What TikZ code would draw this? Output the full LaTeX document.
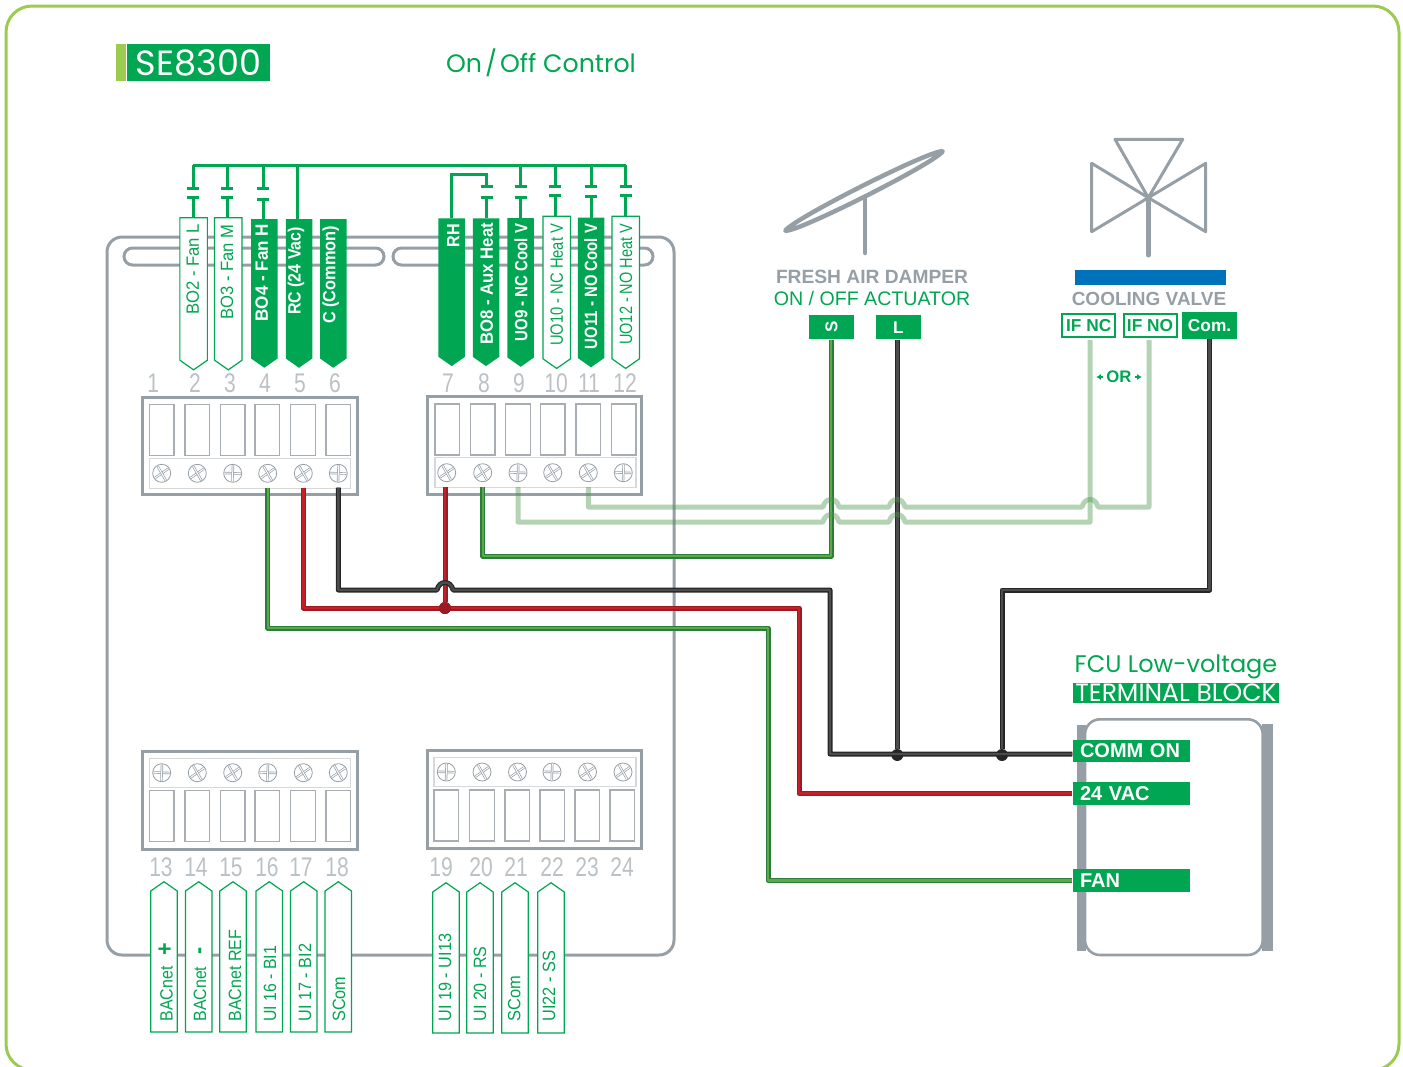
\documentclass[tikz,border=0pt]{standalone}
\usepackage{fontspec}
\setmainfont{Liberation Sans}
\newfontfamily\headfont{Poppins}
\newfontfamily\numfont[FakeStretch=0.78]{Liberation Sans}
\usetikzlibrary{shapes.symbols,arrows.meta}
\definecolor{segreen}{HTML}{00A651}
\definecolor{selime}{HTML}{9CCB4F}
\definecolor{segrey}{HTML}{979FA6}
\definecolor{seblue}{HTML}{0072BC}
\definecolor{fandark}{HTML}{2A7D3A}
\definecolor{fancore}{HTML}{5FA84A}
\definecolor{vacdark}{HTML}{9C1A20}
\definecolor{vaccore}{HTML}{C4202A}
\newsavebox{\tagbox}
\newcommand{\fitlabel}[2]{\sbox{\tagbox}{#2}\pgfmathsetmacro{\tagscale}{#1/\the\wd\tagbox}\scalebox{\tagscale}[1]{#2}}
\newcommand{\hop}[2]{-- (#1-8,#2) .. controls (#1-6,#2-10) and (#1+6,#2-10) .. (#1+8,#2)}
\newcommand{\pxfont}[1]{\fontsize{#1}{#1}\selectfont}
\tikzset{
  board/.style={draw=segrey,line width=3pt},
  frameblock/.style={draw=segrey,line width=3pt},
  pocket/.style={draw=segrey!85,line width=1.4pt},
  strip/.style={draw=segrey!40,line width=1.4pt},
  slot/.style={draw=segrey,line width=.7pt,double=white,double distance=1pt},
  screw/.style 2 args={circle,draw=segrey,line width=.8pt,fill=white,minimum size=18pt,inner sep=0pt,
    path picture={
      \draw[slot] (path picture bounding box.center) ++(#1:8) -- ++(#1+180:16);
      \draw[slot] (path picture bounding box.center) ++(#2:8) -- ++(#2+180:16);}},
  screwx/.style={screw={-35}{60}},
  screwp/.style={screw={2}{92}},
  pinnum/.style={inner sep=0pt,text=segrey!65,font=\numfont\pxfont{27}},
  tagdown/.style={signal,signal to=south,signal from=nowhere,signal pointer angle=110,inner sep=0pt,outer sep=0pt,anchor=north},
  tagup/.style={signal,signal to=north,signal from=nowhere,signal pointer angle=110,inner sep=0pt,outer sep=0pt,anchor=south,
    draw=segreen,line width=1.2pt,fill=white,minimum width=26.5pt},
  whitetag/.style={tagdown,draw=segreen,line width=1.2pt,fill=white,minimum width=27.5pt},
  greentag/.style={tagdown,fill=segreen,minimum width=26.5pt},
  taglight/.style={rotate=90,anchor=west,inner sep=0pt,text=segreen,font=\pxfont{17.8}},
  tagbold/.style={rotate=90,anchor=west,inner sep=0pt,text=white,font=\bfseries\pxfont{17.8}},
  contact/.style={draw=segreen,line width=3pt},
  solidterm/.style={fill=segreen,text=white,font=\bfseries\pxfont{17.3},inner sep=0pt,minimum height=24pt},
  openterm/.style={draw=segreen,line width=2pt,fill=white,text=segreen,font=\bfseries\pxfont{17.3},inner sep=0pt,minimum height=23.5pt,minimum width=53pt},
  fculabel/.style={fill=segreen,text=white,font=\bfseries\pxfont{20},anchor=west,inner xsep=7.5pt,inner ysep=0pt,
    text width=102pt,align=left,minimum height=22.5pt},
  wire/.style={line width=1.3pt,double distance=2.4pt,line join=round},
  greenwire/.style={wire,draw=fandark,double=fancore},
  redwire/.style={wire,draw=vacdark,double=vaccore},
  blackwire/.style={wire,draw=black!85,double=black!70},
  lightwire/.style={draw=green!40!black!70!white,line width=5pt,opacity=.42,line join=round},
  grey head/.style={inner sep=0pt,text=segrey,font=\bfseries\pxfont{19.2}},
  green head/.style={inner sep=0pt,text=segreen,font=\pxfont{19.6}},
  symbol/.style={draw=segrey,line join=round,line cap=round},
}
\begin{document}
\begin{tikzpicture}[x=1pt,y=-1pt]
  \useasboundingbox (0,0) rectangle (1403,1066);
  % page edge and title
  \draw[draw=selime,line width=3pt,rounded corners=26pt] (6,6) rectangle (1399,1070);
  \fill[selime] (116,44) rectangle (126,81);
  \node[fill=segreen,text=white,inner sep=0pt,minimum width=143pt,minimum height=37pt,font=\headfont\pxfont{35}] (model) at (198.5,62.5) {SE8300};
  \node[inner sep=0pt,text=segreen,font=\headfont\pxfont{25.2}] (mode) at (541,63) {On\hspace{3pt}/\hspace{3pt}Off Control};

  % controller board
  \draw[board,rounded corners=15pt] (107,237) rectangle (674,955);
  \draw[board,rounded corners=8.5pt] (124,248) rectangle (384,265);
  \draw[board,rounded corners=8.5pt] (393,248) rectangle (653,265);

  % terminal blocks
  \draw[frameblock] (142.7,397.3) rectangle (357.3,494.3);
  \draw[frameblock] (427.7,396.7) rectangle (641.7,494.3);
  \draw[frameblock] (142.7,751) rectangle (357.3,849.3);
  \draw[frameblock] (427.7,750) rectangle (641.7,848);
  \draw[strip] (149.3,458.3) rectangle (350.7,488.3);
  \draw[strip] (435,457.7) rectangle (636,487.7);
  \draw[strip] (149.3,758.3) rectangle (350.7,787.3);
  \draw[strip] (434,757.7) rectangle (636,786.7);
  \foreach \x in {149.3,185,220.3,255,290.7,326} {
    \draw[pocket] (\x,404.3) rectangle (\x+24.7,455.7);
    \draw[pocket] (\x,790.7) rectangle (\x+24.7,841.7);
  }
  \foreach \x in {435,470.3,505.7,540.3,576,611.3}
    \draw[pocket] (\x,404) rectangle (\x+24.7,455);
  \foreach \x in {434,469.5,505,540,575,610}
    \draw[pocket] (\x,790) rectangle (\x+24.7,841);

  \foreach \n/\x/\y/\kind in {1/161.7/473.3/screwx,2/197.3/473.3/screwx,3/232.7/473.3/screwp,4/267.7/473.3/screwx,5/303.3/473.3/screwx,6/338.3/473.3/screwp,
      7/446.7/472.7/screwx,8/482.7/472.7/screwx,9/518/472.7/screwp,10/552.7/472.7/screwx,11/588.3/472.7/screwx,12/623.3/472.7/screwp,
      13/161.7/772.7/screwp,14/197.3/772.7/screwx,15/232.7/772.7/screwx,16/267.7/772.7/screwp,17/303.3/772.7/screwx,18/338.3/772.7/screwx,
      19/446.3/772/screwp,20/482/772/screwx,21/517.5/772/screwx,22/552/772/screwp,23/587.5/772/screwx,24/623/772/screwx}
    \node[\kind] (scr\n) at (\x,\y) {};

  \foreach \n/\x/\y in {1/153.3/383,2/195/383,3/230/383,4/265/383,5/300/383,6/335/383,
      7/448/383,8/484/383,9/519/383,10/556/383,11/589/383,12/625/383,
      13/161/867,14/196/867,15/231/867,16/267/867,17/301/867,18/337/867,
      19/441/867,20/481/867,21/516/867,22/552/867,23/587/867,24/622/867}
    \node[pinnum] (pin\n) at (\x,\y) {\n};

  % wire tags
  \foreach \nm/\x/\ytop/\hh/\kind in {t2/193.6/217.7/142.5/whitetag,t3/228.3/217.7/142.5/whitetag,t4/264.3/219/139.5/greentag,
      t5/299/219/139.5/greentag,t6/333.3/219/139.5/greentag,t7/451.7/218.3/138.5/greentag,t8/486/218.3/138.5/greentag,
      t9/520.7/218/139.5/greentag,t10/556.7/216.3/142.5/whitetag,t11/591/217.5/140.5/greentag,t12/625.7/216.3/142.5/whitetag}
    \node[\kind,minimum height=\hh pt] (\nm) at (\x,\ytop) {};
  \foreach \nm/\x/\ybot in {t13/164/1032,t14/198.7/1032,t15/233/1032,t16/269.3/1032,t17/303.7/1032,t18/338.3/1032,
      t19/446/1033,t20/480/1033,t21/515/1033,t22/551/1033}
    \node[tagup,minimum height=141pt] (\nm) at (\x,\ybot) {};

  \foreach \x/\ybot/\len/\kind/\txt in {192.7/315/91/taglight/{BO2 - Fan L},227/320/95/taglight/{BO3 - Fan M},
      261.7/321.7/97.7/tagbold/{BO4 - Fan H},296/315/87.7/tagbold/{RC (24 Vac)},330.7/324/98/tagbold/{C (Common)},
      453.3/247.3/23.3/tagbold/{RH},486.7/345/121.7/tagbold/{BO8 - Aux Heat},521/341.7/117.7/tagbold/{UO9 - NC Cool V},
      556.7/346/122/taglight/{UO10 - NC Heat V},590.7/349.3/125.3/tagbold/{UO11 - NO Cool V},626/345/121/taglight/{UO12 - NO Heat V},
      165.7/1021.7/78.3/taglight/{BACnet\hspace{12pt}{\bfseries\pxfont{24}+}},200/1021.7/74.3/taglight/{BACnet\hspace{13.8pt}{\bfseries\pxfont{24}-}},
      235/1021.7/91.7/taglight/{BACnet REF},270/1021.7/75.7/taglight/{UI 16 - BI1},305/1021.7/77.7/taglight/{UI 17 - BI2},339/1021.7/45/taglight/{SCom},
      445/1021.7/87.7/taglight/{UI 19 - UI13},480/1021.7/75/taglight/{UI 20 - RS},514.3/1021.7/45.7/taglight/{SCom},549/1021.7/70.7/taglight/{UI22 - SS}}
    \node[\kind] at (\x,\ybot) {\fitlabel{\len}{\txt}};

  % contacts above the tags
  \coordinate (busL) at (193,165);
  \coordinate (busR) at (625.7,165);
  \coordinate (rhtop) at (486.7,174);
  \draw[contact] (busL) -- (busR);
  \foreach \tg/\dx in {t2/-.6,t3/-1,t4/-1} {
    \draw[contact] ([xshift=\dx pt]\tg.north |- busL) -- ++(0,23) ++(-6,0) -- ++(12,0);
    \draw[contact] ([xshift=\dx pt]\tg.north) -- ++(0,-20) ++(-6,0) -- ++(12,0);
  }
  \foreach \tg/\dx in {t9/0,t10/-1.7,t11/0,t12/0} {
    \draw[contact] ([xshift=\dx pt]\tg.north |- busL) -- ++(0,21) ++(-6,0) -- ++(12,0);
    \draw[contact] ([xshift=\dx pt]\tg.north) -- ++(0,-21) ++(-6,0) -- ++(12,0);
  }
  \draw[contact] ([xshift=-1.7pt]t5.north |- busL) -- ([xshift=-1.7pt]t5.north);
  \draw[contact] (t7.north) |- (rhtop) -- ++(0,12) ++(-6,0) -- ++(12,0);
  \draw[contact] ([xshift=.7pt]t8.north) -- ++(0,-21) ++(-6,0) -- ++(12,0);

  % damper and valve
  \draw[symbol,line width=4.5pt] (785.4,230.7) .. controls (791.1,219.9) and (930.5,149.5) .. (942.6,151.3)
    .. controls (936.9,162.1) and (797.5,232.5) .. cycle;
  \draw[symbol,line width=4.5pt] (865,198) -- (865,253);
  \draw[symbol,line width=3pt] (1148.3,197.7) -- (1115,139.3) -- (1182.7,139.3) -- cycle
    (1148.3,197.7) -- (1091.7,163.3) -- (1091.7,231.7) -- cycle
    (1148.3,197.7) -- (1205.7,163.3) -- (1205.7,231.7) -- cycle;
  \draw[symbol,line width=5pt] (1148.3,197.7) -- (1148.3,255);
  \fill[seblue] (1075,270) rectangle (1226,285);
  \node[grey head] (freshair) at (872,277) {FRESH AIR DAMPER};
  \node[green head] (onoff) at (872,298) {ON / OFF ACTUATOR};
  \node[grey head,font=\bfseries\pxfont{19}] (cooling) at (1149,299) {COOLING VALVE};

  \node[solidterm,minimum width=45.3pt,font=\bfseries\pxfont{17}] (tS) at (831.6,327.3) {\rotatebox{90}{S}};
  \node[solidterm,minimum width=45.3pt,font=\bfseries\pxfont{17}] (tL) at (898.3,327.3) {L};
  \node[openterm] (tNC) at (1088.7,325.5) {IF NC};
  \node[openterm] (tNO) at (1150,325.5) {IF NO};
  \node[solidterm,minimum width=54.7pt,minimum height=27pt] (tCom) at (1209.6,325.5) {Com.};
  \node[inner sep=0pt,text=segreen,font=\bfseries\pxfont{16.7}] (orword) at (1119,377) {OR};
  \draw[segreen,line width=1.5pt,-{Latex[length=4.5pt,width=6pt]}] ([xshift=-3pt]orword.west) -- ++(-7,0);
  \draw[segreen,line width=1.5pt,-{Latex[length=4.5pt,width=6pt]}] ([xshift=3pt]orword.east) -- ++(7,0);

  % FCU block
  \node[inner sep=0pt,text=segreen,font=\headfont\pxfont{24}] (fcu) at (1176,666.5) {FCU Low-voltage};
  \node[fill=segreen,text=white,inner sep=0pt,minimum width=206pt,minimum height=20pt,font=\headfont\pxfont{25}] (block) at (1176,692.7) {TERMINAL BLOCK};
  \fill[segrey] (1077.3,725) rectangle (1086,951);
  \fill[segrey] (1262,724) rectangle (1272.7,951);
  \draw[draw=segrey,line width=2.6pt,fill=white,rounded corners=15pt] (1085,719.3) rectangle (1262.7,955);
  \node[fculabel] (comm) at (1072.3,751) {COMM ON};
  \node[fculabel] (vac) at (1072.3,793.6) {24 VAC};
  \node[fculabel] (fan) at (1072.3,880.5) {FAN};

  % wiring
  \node[circle,fill=vacdark,inner sep=0pt,minimum size=12pt] (redtap) at (445,608) {};
  \node[circle,fill=black!85,inner sep=0pt,minimum size=12pt] (dotL) at (897.3,755) {};
  \node[circle,fill=black!85,inner sep=0pt,minimum size=12pt] (dotCom) at (1002,755) {};
  \coordinate (fanrun) at (768,628);
  \coordinate (vacrun) at (799,608);
  \coordinate (commrun) at (830,590);
  \coordinate (damprun) at (831,556);
  \coordinate (comrun) at (1002,590);

  \draw[greenwire] ([yshift=-5pt]scr4.south) |- (fanrun) |- (fan.west);
  \draw[greenwire] ([yshift=-5pt]scr8.south) |- (damprun) -- (damprun |- tS.south);
  \draw[redwire] ([yshift=-5pt]scr5.south) |- (vacrun) |- (vac.west);
  \draw[redwire] (redtap |- scr7.south) ++(0,5) -- (redtap);
  \draw[blackwire] ([yshift=-5pt]scr6.south) |- (437,590) \hop{445}{590} -- (commrun) |- ([yshift=-3pt]comm.west);
  \draw[blackwire] (dotL |- tL.south) -- (dotL);
  \draw[blackwire] (tCom.south) |- (comrun) -- (dotCom);
  \node[circle,fill=vacdark,inner sep=0pt,minimum size=12pt] at (redtap) {};
  \draw[lightwire] ([yshift=-5pt]scr9.south) |- (823,522) \hop{831}{522} \hop{897}{522} -- (1090,522) -- (1090,340);
  \draw[lightwire] ([yshift=-5pt]scr11.south) |- (823,507) \hop{831}{507} \hop{897}{507} \hop{1090}{507} -- (1149,507) -- (1149,340);
\end{tikzpicture}
\end{document}
